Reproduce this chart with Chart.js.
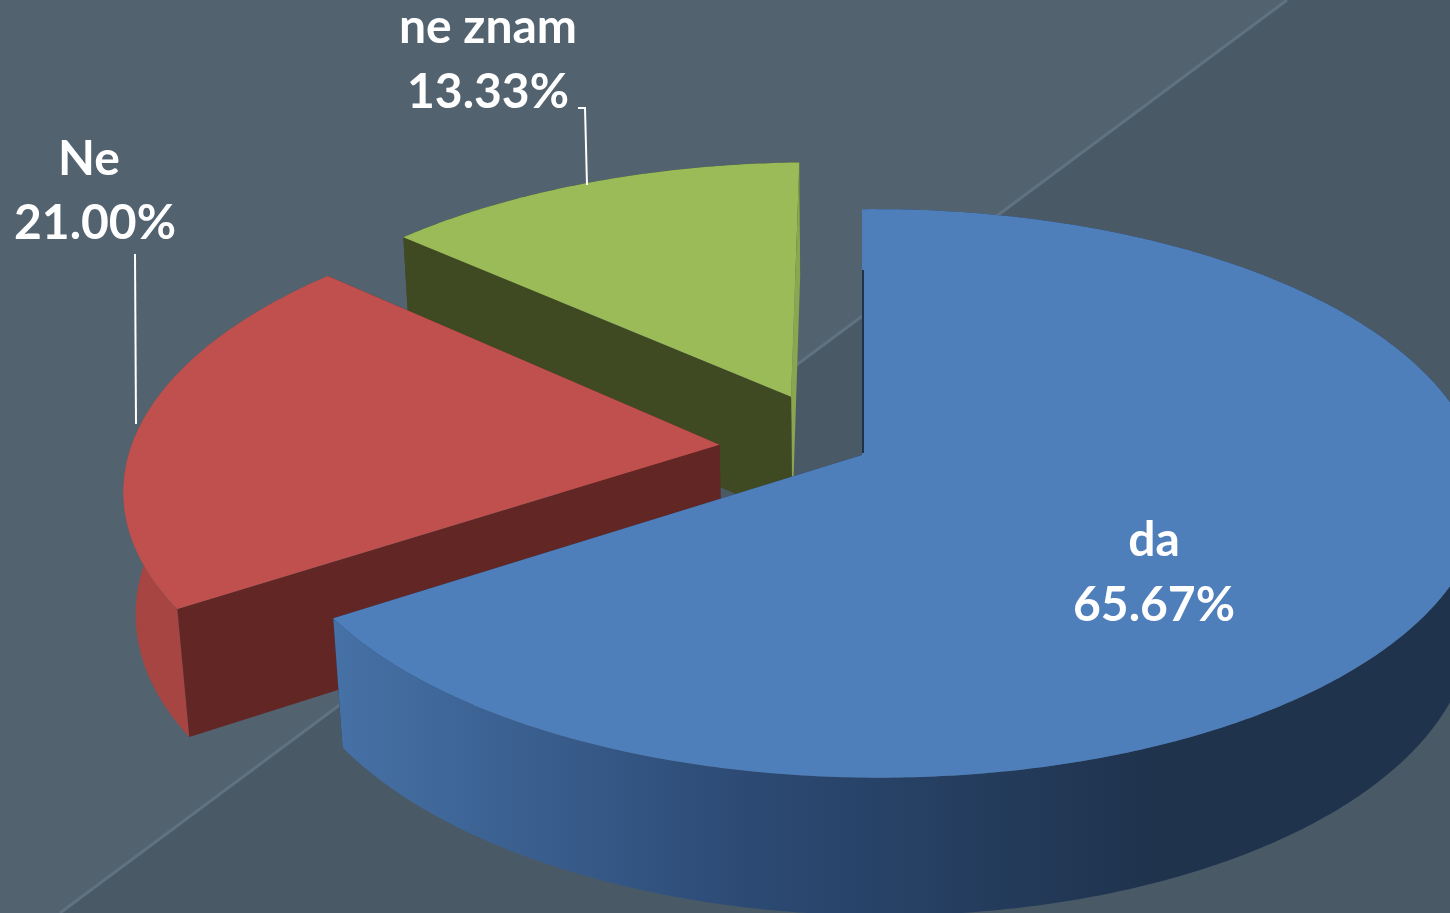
<!DOCTYPE html>
<html>
<head>
<meta charset="utf-8">
<title>da / Ne / ne znam</title>
<script src="https://cdn.jsdelivr.net/npm/chart.js@4"></script>
<style>
  html, body { margin: 0; padding: 0; background: #495966; overflow: hidden; }
  canvas { display: block; }
</style>
</head>
<body>
<canvas id="pie-chart" width="1450" height="913"></canvas>
<script>
var categories = ["da", "Ne", "ne znam"];
var percentValues = [65.67, 21.00, 13.33];

// colours of each slice: top, outer wall, first radial wall, second radial wall
var topColors = ["#4f7fbb", "#bf504d", "#9bbb59"];
var outerColors = [null, "#a64541", "#3f4a23"];
var startWallColors = ["#1f334d", "#622725", "#3f4a23"];
var endWallColors = ["#1f334d", "#622725", "#8aa64f"];

// slice offset on the pie plane (exploded look) and radius
var explode = [[0, 0], [-0.24, 0.037], [-0.122, 0.215]];
var radii = [1, 1.02, 1.01];
// draw order: far slices first
var drawOrder = [2, 1, 0];

// where the label goes: name x, name baseline, value x, value baseline
var labelSpots = [[1154, 556, 1154, 621], [89, 175, 95, 239], [488, 43, 488, 108]];
var leaders = [null, [[135, 254], [136, 424]], [[578, 108], [585, 108], [587, 185]]];

// perspective of the pie plane
var apexX = 862, apexY = 455, scaleX = 600, scaleY = 279, persp = 0.135, perspX = 0.024, depth = 127, perspZ = 0.017;

function project(x, y, z) {
    var w = 1 + persp * y - perspX * x + perspZ * z;
    return [apexX + x * scaleX / w, apexY + (-y * scaleY + z * depth) / w];
}

function planePoint(angle, r, off) {
    // chart.js angles start at 3 o'clock and go clockwise
    return [off[0] + r * Math.cos(angle), off[1] - r * Math.sin(angle)];
}

function arcPoints(a0, a1, r, off, z) {
    var pts = [];
    var n = Math.ceil((a1 - a0) / 0.01);
    for (var i = 0; i <= n; i++) {
        var p = planePoint(a0 + (a1 - a0) * i / n, r, off);
        pts.push(project(p[0], p[1], z));
    }
    return pts;
}

function fillPoly(ctx, pts, color) {
    ctx.beginPath();
    pts.forEach(function (p, i) {
        if (i === 0) ctx.moveTo(p[0], p[1]);
        else ctx.lineTo(p[0], p[1]);
    });
    ctx.closePath();
    ctx.fillStyle = color;
    ctx.fill();
}

function radialWall(ctx, angle, r, off, color) {
    var edge = planePoint(angle, r, off);
    fillPoly(ctx, [
        project(off[0], off[1], 0),
        project(edge[0], edge[1], 0),
        project(edge[0], edge[1], 1),
        project(off[0], off[1], 1)
    ], color);
}

function drawBackground(ctx) {
    var lineA = [60, 913], lineB = [1287, 0];
    ctx.fillStyle = "#495966";
    ctx.fillRect(0, 0, 1450, 913);
    ctx.beginPath();
    ctx.moveTo(0, 0);
    ctx.lineTo(lineB[0], lineB[1]);
    ctx.lineTo(lineA[0], lineA[1]);
    ctx.lineTo(0, 913);
    ctx.closePath();
    ctx.fillStyle = "#52626f";
    ctx.fill();
    ctx.beginPath();
    ctx.moveTo(lineA[0], lineA[1]);
    ctx.lineTo(lineB[0], lineB[1]);
    ctx.strokeStyle = "#607280";
    ctx.lineWidth = 3;
    ctx.stroke();
}

var pie3d = {
    id: "pie3d",
    beforeDraw: function (chart) {
        drawBackground(chart.ctx);
    },
    beforeDatasetsDraw: function (chart) {
        var ctx = chart.ctx;
        var arcs = chart.getDatasetMeta(0).data;
        ctx.save();
        drawOrder.forEach(function (i) {
            var a0 = arcs[i].startAngle, a1 = arcs[i].endAngle, off = explode[i], r = radii[i];
            var topArc = arcPoints(a0, a1, r, off, 0);
            var bottomArc = arcPoints(a0, a1, r, off, 1);
            var outerPoly = topArc.concat(bottomArc.slice().reverse());

            if (outerColors[i]) {
                // small slices: flat outer wall, radial walls go over it
                fillPoly(ctx, outerPoly, outerColors[i]);
                radialWall(ctx, a1, r, off, endWallColors[i]);
                radialWall(ctx, a0, r, off, startWallColors[i]);
            } else {
                // big slice: shaded wall has to hide its own radial walls
                radialWall(ctx, a1, r, off, endWallColors[i]);
                radialWall(ctx, a0, r, off, startWallColors[i]);
                var wall = ctx.createLinearGradient(338, 0, 1150, 0);
                wall.addColorStop(0, "#4671a6");
                wall.addColorStop(0.5, "#2c4a74");
                wall.addColorStop(1, "#1f334d");
                fillPoly(ctx, outerPoly, wall);
            }

            fillPoly(ctx, [project(off[0], off[1], 0)].concat(topArc), topColors[i]);
        });

        // thin dark edge of the big slice
        ctx.strokeStyle = startWallColors[0];
        ctx.lineWidth = 2;
        ctx.beginPath();
        ctx.moveTo(apexX + 1, apexY - 185);
        ctx.lineTo(apexX + 1, apexY - 2);
        ctx.stroke();

        // leader lines
        ctx.strokeStyle = "#ffffff";
        ctx.lineWidth = 2;
        leaders.forEach(function (line) {
            if (!line) return;
            ctx.beginPath();
            line.forEach(function (p, k) {
                if (k === 0) ctx.moveTo(p[0], p[1]);
                else ctx.lineTo(p[0], p[1]);
            });
            ctx.stroke();
        });

        // labels
        ctx.fillStyle = "#ffffff";
        ctx.font = "bold 48px Lato";
        ctx.textAlign = "center";
        ctx.textBaseline = "alphabetic";
        categories.forEach(function (name, i) {
            var spot = labelSpots[i];
            ctx.fillText(name, spot[0], spot[1]);
            ctx.fillText(percentValues[i].toFixed(2) + "%", spot[2], spot[3]);
        });
        ctx.restore();
        return false; // the slices are already drawn above
    }
};

const ctx = document.getElementById("pie-chart").getContext("2d");

const chart = new Chart(ctx, {
    type: "pie",
    data: {
        labels: categories,
        datasets: [{ data: percentValues, backgroundColor: topColors, borderWidth: 0 }]
    },
    options: {
        responsive: false,
        animation: false,
        plugins: { legend: { display: false }, tooltip: { enabled: false } }
    },
    plugins: [pie3d]
});
</script>
</body>
</html>
